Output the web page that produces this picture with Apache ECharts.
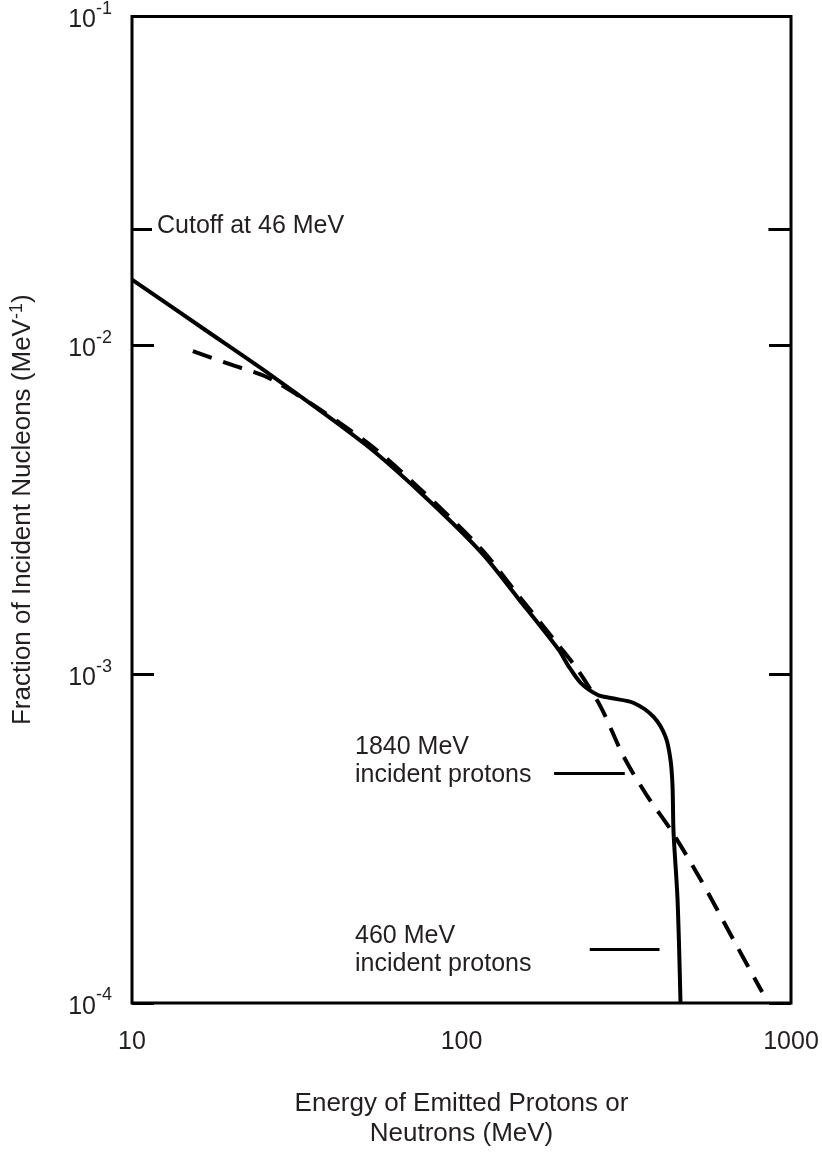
<!DOCTYPE html>
<html>
<head>
<meta charset="utf-8">
<script src="https://cdn.jsdelivr.net/npm/echarts@6/dist/echarts.min.js"></script>
<style>
  html, body { margin: 0; padding: 0; background: #fff; }
  #main { width: 822px; height: 1154px; }
</style>
</head>
<body>
<div id="main"></div>
<script>
// energy (MeV) vs fraction (MeV^-1)
const solidEnergy = [10, 16.4, 26.7, 50.9, 75.7, 114.9, 148.6, 197.7, 210.5, 230.4, 259.4, 283.9, 333.2, 382.9, 416.4, 430.9, 437, 440.1, 452.5, 462]
const solidFraction = [0.01585, 0.01127, 0.00805, 0.00501, 0.003536, 0.002343, 0.0017, 0.001182, 0.001064, 0.000939, 0.000864, 0.000846, 0.000817, 0.000741, 0.000644, 0.000548, 0.000455, 0.00033, 0.000207, 0.0001]

const dashEnergy = [15.3, 19.8, 26.7, 50.9, 75.7, 114.9, 148.6, 197.7, 225.7, 264.8, 310.7, 367.3, 430.9, 531.1, 668.1, 817.4]
const dashFraction = [0.0096, 0.00876, 0.00785, 0.00512, 0.00362, 0.0024, 0.00174, 0.00122, 0.001028, 0.000794, 0.000561, 0.000424, 0.000337, 0.000238, 0.000156, 0.000108]

const xTicks = [10, 100, 1000]
const yRange = [0.0001, 0.1]
const cutoffLevel = 0.0225

const FONT = "'Liberation Sans', Arial, Helvetica, sans-serif"
const TXT = '#231f20'

const solidData = solidEnergy.map((e, i) => [e, solidFraction[i]])
const dashData = dashEnergy.map((e, i) => [e, dashFraction[i]])

const chart = echarts.init(document.getElementById('main'), null, { renderer: 'canvas' })

const powLabel = v => {
  const exp = Math.round(Math.log10(v))
  return '{b|10}{s|' + exp + '}'
}

const richLabel = {
  b: { fontSize: 25, fontFamily: FONT, color: TXT, padding: [8, 0, 0, 0] },
  s: { fontSize: 18, fontFamily: FONT, color: TXT, verticalAlign: 'top', padding: [0, 0, 10, 0] }
}

const yAxisBase = {
  type: 'log',
  logBase: 10,
  min: yRange[0],
  max: yRange[1],
  splitLine: { show: false },
  axisLine: { show: false },
  axisTick: { show: true, inside: true, length: 22, lineStyle: { color: '#000', width: 3 } }
}

chart.setOption({
  animation: false,
  backgroundColor: '#fff',
  grid: {
    left: 129, top: 14, width: 662, height: 990,
    show: true, borderColor: '#000', borderWidth: 3
  },
  xAxis: {
    type: 'log',
    logBase: 10,
    min: xTicks[0],
    max: xTicks[xTicks.length - 1],
    splitLine: { show: false },
    axisLine: { show: false },
    axisTick: { show: false },
    axisLabel: { fontSize: 25, fontFamily: FONT, color: TXT, margin: 27, formatter: v => String(v) },
    name: 'Energy of Emitted Protons or\nNeutrons (MeV)',
    nameLocation: 'middle',
    nameGap: 86,
    nameTextStyle: { fontSize: 26, fontFamily: FONT, color: TXT, lineHeight: 30 }
  },
  yAxis: [
    Object.assign({}, yAxisBase, {
      position: 'left',
      axisLabel: { margin: 20, formatter: powLabel, rich: richLabel },
      name: '{t|Fraction of Incident Nucleons (MeV}{s|-1}{t|)}',
      nameLocation: 'middle',
      nameGap: 94,
      nameTextStyle: {
        rich: {
          t: { fontSize: 26, fontFamily: FONT, color: TXT },
          s: { fontSize: 18, fontFamily: FONT, color: TXT, verticalAlign: 'top', padding: [0, 0, 12, 0] }
        }
      }
    }),
    Object.assign({}, yAxisBase, {
      position: 'right',
      axisLabel: { show: false }
    })
  ],
  series: [
    {
      name: '460 MeV',
      type: 'line',
      data: solidData,
      showSymbol: false,
      smooth: 0.3,
      lineStyle: { color: '#000', width: 4 },
      markLine: {
        silent: true,
        symbol: 'none',
        label: { show: false },
        lineStyle: { color: '#000', width: 3, type: 'solid' },
        data: [
          [{ coord: [10, cutoffLevel] }, { coord: [11.5, cutoffLevel] }],
          [{ coord: [854, cutoffLevel] }, { coord: [1000, cutoffLevel] }],
          [{ coord: [191, 0.000501] }, { coord: [313, 0.000501] }],
          [{ coord: [245, 0.0001458] }, { coord: [399, 0.0001458] }]
        ]
      }
    },
    {
      name: '1840 MeV',
      type: 'line',
      data: dashData,
      showSymbol: false,
      smooth: 0.3,
      lineStyle: { color: '#000', width: 4, type: [20, 12] }
    }
  ],
  graphic: [
    { type: 'text', left: 157, top: 214, style: { text: 'Cutoff at 46 MeV', font: '25px ' + FONT, fill: TXT } },
    { type: 'text', left: 355, top: 733, style: { text: '1840 MeV\nincident protons', font: '25px ' + FONT, fill: TXT, lineHeight: 28 } },
    { type: 'text', left: 355, top: 922, style: { text: '460 MeV\nincident protons', font: '25px ' + FONT, fill: TXT, lineHeight: 28 } }
  ]
})
</script>
</body>
</html>
